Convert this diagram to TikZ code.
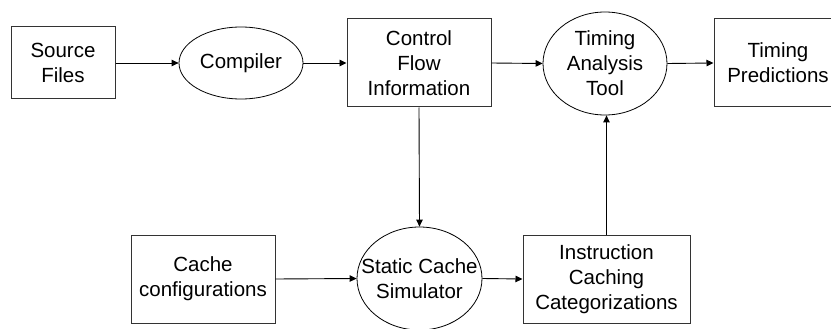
\documentclass[tikz,border=0pt]{standalone}
\usepackage{fontspec}
\setmainfont{Liberation Sans}
\usetikzlibrary{shapes.geometric,arrows.meta}
\begin{document}
\begin{tikzpicture}[x=1pt,y=-1pt,
  every node/.style={font=\fontsize{20.5}{25}\selectfont},
  boxnode/.style={draw=black!80, line width=1pt, rectangle, inner sep=0pt},
  ellnode/.style={draw=black, line width=0.8pt, ellipse, inner sep=0pt},
  txt/.style={align=center, inner sep=0pt},
  conn/.style={draw=black, line width=0.9pt, -{Triangle[length=7pt,width=6.5pt]}}]
\useasboundingbox (0,0) rectangle (831,329);
% top row
\node[boxnode, minimum width=104pt, minimum height=72pt] (src) at (63,63) {};
\node[txt] (srct) at (src) {Source\\Files};
\node[ellnode, minimum width=124pt, minimum height=72pt] (comp) at (241,63) {};
\node[txt] (compt) at (comp) {Compiler};
\node[boxnode, minimum width=144pt, minimum height=88pt] (cfi) at (419,63) {};
\node[txt] (cfit) at (cfi) {Control\\Flow\\Information};
\node[ellnode, minimum width=124pt, minimum height=103pt] (tat) at (605,63.5) {};
\node[txt] (tatt) at (tat) {Timing\\Analysis\\Tool};
\node[boxnode, minimum width=150pt, minimum height=88pt] (tp) at (789,63) {};
\node[txt] (tpt) at (778,63) {Timing\\Predictions};
% bottom row
\node[boxnode, minimum width=144pt, minimum height=88pt] (cache) at (203,279) {};
\node[txt] (cachet) at (cache) {Cache\\configurations};
\node[ellnode, minimum width=125pt, minimum height=103pt] (ssim) at (419.5,278.5) {};
\node[txt] (ssimt) at (ssim) {Static Cache\\Simulator};
\node[boxnode, minimum width=167pt, minimum height=88pt] (icc) at (606.5,279) {};
\node[txt] (icct) at (icc) {Instruction\\Caching\\Categorizations};
% connectors
\draw[conn] (src.east) -- (comp.west);
\draw[conn] (comp.east) -- (cfi.west);
\draw[conn] (cfi.east) -- (tat.west);
\draw[conn] (tat.east) -- (tp.west);
\draw[conn] (cfi.south) -- (ssim.north);
\draw[conn] (cache.east) -- (ssim.west);
\draw[conn] (ssim.east) -- (icc.west);
\draw[conn] (icc.north) -- (icc.north |- tat.south);
\end{tikzpicture}
\end{document}
